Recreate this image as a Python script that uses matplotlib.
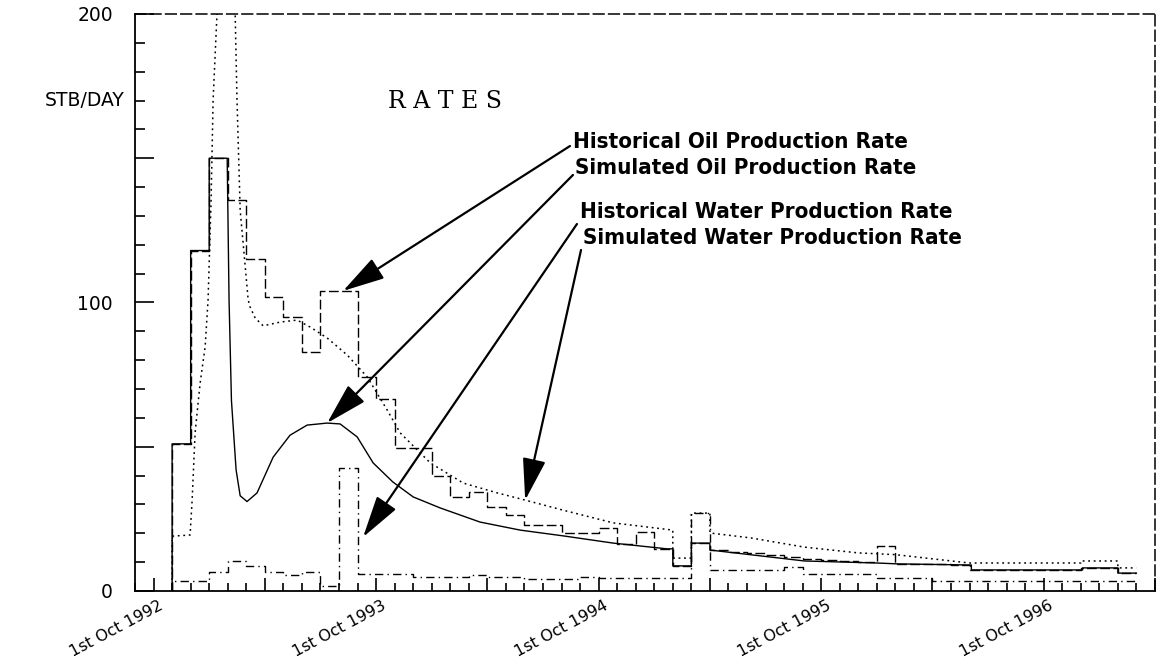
import numpy as np
import matplotlib
matplotlib.use("Agg")
import matplotlib.pyplot as plt
from matplotlib.transforms import ScaledTranslation

# --- Données (mois depuis le 1er oct. 1992, STB/DAY) ---
# Historique huile : débit mensuel (début de mois -> valeur)
hist_oil_t = np.arange(1, 53)
hist_oil_q = [51, 118, 150, 135.5, 115, 102, 95, 83, 104, 104,
              74, 66.5, 49.6, 49.6, 40, 32.6, 34.3, 29, 26.3, 22.9,
              22.9, 20, 20, 22, 16.3, 20.4, 14.6, 8.7, 16.6, 14.2,
              13.6, 13, 12.4, 11.8, 11.2, 10.8, 10.5, 10.2, 15.6, 9.4,
              9.4, 9.2, 9.0, 7.3, 7.3, 7.3, 7.3, 7.3, 7.3, 8,
              8, 6.2]

# Historique eau
hist_wat_q = [3.5, 3.5, 6.6, 10.4, 8.7, 6.6, 5.5, 6.6, 1.7, 42.6,
              5.9, 5.9, 5.9, 4.8, 4.8, 4.8, 5.5, 4.8, 4.8, 4.2,
              4.2, 4.2, 4.8, 4.5, 4.5, 4.5, 4.5, 4.5, 27, 7.3,
              7.3, 7.3, 7.3, 8.3, 5.9, 5.9, 5.9, 5.9, 4.5, 4.5,
              4.5, 3.5, 3.5, 3.5, 3.5, 3.5, 3.5, 3.5, 3.5, 3.5,
              3.5, 3.5]
t_end = 53

# Simulé huile
sim_oil_t = [1, 1, 2, 2, 3, 3, 3.97, 4.07, 4.2, 4.45, 4.67, 5.04, 5.58,
             6.45, 7.36, 8.28, 9.36, 10.06, 10.98, 11.84, 12.9, 14.0,
             15.45, 17.6, 19.77, 22.09, 24.78, 27.7, 28, 28, 29, 29, 30,
             30, 35.1, 39, 40.1, 44.1, 44.1, 50.1, 50.1, 52, 52, 53]
sim_oil_q = [0, 51, 51, 118, 118, 150, 150, 101, 66, 42, 33, 31, 34,
             46.4, 54, 57.5, 58.2, 57.9, 53.4, 44.4, 37.8, 32.6,
             28.8, 23.9, 21.1, 19.1, 16.6, 14.6, 14.6, 8.7, 8.7, 16.6, 16.6,
             14.2, 10.4, 9.7, 9.4, 9.0, 7.3, 7.3, 8, 8, 6.2, 6.2]

# Simulé eau
sim_wat_t = [1, 1, 1.97, 2.08, 2.24, 2.51, 2.78, 2.94, 3.1, 3.21, 3.42,
             3.9, 4.4, 4.5, 4.67, 4.99, 5.1, 5.2, 5.48, 5.91, 6.83, 7.74,
             8.44, 9.36, 10.44, 11.52, 12.6, 13.3, 14.92, 16.7, 18.53,
             20.04, 22.09, 24.79, 28, 28, 29, 29, 30, 30, 32.2, 35.1, 38,
             40, 44, 50, 50, 52, 52, 53]
sim_wat_q = [0, 19, 19.4, 31.5, 54.8, 72, 84.6, 101, 135, 170, 200,
             270, 200, 170, 132, 109, 101, 98.5, 94.6, 91.9, 93.2, 93.9,
             91.5, 87.7, 81.8, 74.2, 62.7, 54.8, 44.4, 37.4, 34,
             31.5, 28, 23.6, 21.1, 11.4, 11.4, 27, 27, 20.1, 18.4, 15.2, 13.2,
             12.6, 9.7, 9.7, 10.4, 10.4, 8, 8]

year_ticks = [0, 12, 24, 36, 48]
year_labels = ["1st Oct 1992", "1st Oct 1993", "1st Oct 1994",
               "1st Oct 1995", "1st Oct 1996"]

# --- Figure ---
fig = plt.figure(figsize=(11.59, 6.65), dpi=100)
ax = fig.add_axes([0.1165, 0.1113, 0.88, 0.8677])

x_h = np.r_[1, hist_oil_t, t_end]
ax.step(x_h, np.r_[0, hist_oil_q, hist_oil_q[-1]], where="post",
        color="k", lw=1.0, dashes=(7, 2.5))
ax.step(x_h, np.r_[0, hist_wat_q, hist_wat_q[-1]], where="post",
        color="k", lw=1.0, dashes=(6, 3, 1, 3))
ax.plot(sim_oil_t, sim_oil_q, color="k", lw=1.0)
ax.plot(sim_wat_t, sim_wat_q, color="k", lw=1.1, dashes=(1.2, 2.4))

ax.set_xlim(-1, 54)
ax.set_ylim(0, 200)

for s in ["left", "bottom"]:
    ax.spines[s].set_linewidth(1.3)
for s in ["top", "right"]:
    ax.spines[s].set_linewidth(1.1)
    ax.spines[s].set_linestyle((0, (7, 3)))

# Axe y
ax.set_yticks([0, 50, 100, 150, 200])
ax.set_yticklabels(["0", "", "100", "", "200"])
ax.set_yticks(np.arange(0, 201, 10), minor=True)
ax.tick_params(axis="y", which="major", direction="in", length=14, width=1.2,
               pad=16, labelsize=13.5)
ax.tick_params(axis="y", which="minor", direction="in", length=7, width=1.2)
ax.text(-0.01, 170, "STB/DAY", transform=ax.get_yaxis_transform(),
        ha="right", va="center", fontsize=13.5)

# Axe x
ax.set_xticks(np.arange(0, 55, 6))
ax.set_xticklabels([year_labels[year_ticks.index(t)] if t in year_ticks else ""
                    for t in range(0, 55, 6)])
ax.set_xticks(np.arange(-1, 55, 1), minor=True)
ax.tick_params(axis="x", which="major", direction="in", length=9.5, width=1.2,
               pad=10, labelsize=11.5)
ax.tick_params(axis="x", which="minor", direction="in", length=6, width=1.2)
off = ScaledTranslation(6 / 72, 0, fig.dpi_scale_trans)
for lab in ax.get_xticklabels():
    lab.set_rotation(28)
    lab.set_ha("right")
    lab.set_va("center")
    lab.set_rotation_mode("anchor")
    lab.set_transform(lab.get_transform() + off)

# Titre et annotations
ax.text(0.248, 0.849, "R A T E S", transform=ax.transAxes, ha="left",
        va="center", fontsize=17, family="DejaVu Serif")

labels = ["Historical Oil Production Rate", "Simulated Oil Production Rate",
          "Historical Water Production Rate", "Simulated Water Production Rate"]
text_pos = [(0.4294, 0.7782), (0.4314, 0.7331), (0.4363, 0.6568), (0.4392, 0.6118)]
tails = [(0.4265, 0.7712), (0.4294, 0.7210), (0.4333, 0.6360), (0.4373, 0.5910)]
tips = [(10.22, 104), (9.36, 58.2), (11.3, 18.7), (20.04, 31.5)]

for lab, tp, tl, tip in zip(labels, text_pos, tails, tips):
    ax.text(tp[0], tp[1], lab, transform=ax.transAxes, ha="left", va="center",
            fontsize=16, fontweight="bold", family="DejaVu Sans",
            fontstretch="condensed")
    ax.annotate("", xy=tip, xycoords="data", xytext=tl,
                textcoords="axes fraction",
                arrowprops=dict(arrowstyle="-|>,head_length=1.3,head_width=0.36",
                                mutation_scale=20, lw=1.6, color="k",
                                shrinkA=0, shrinkB=0))

plt.savefig("out.png", dpi=100)
